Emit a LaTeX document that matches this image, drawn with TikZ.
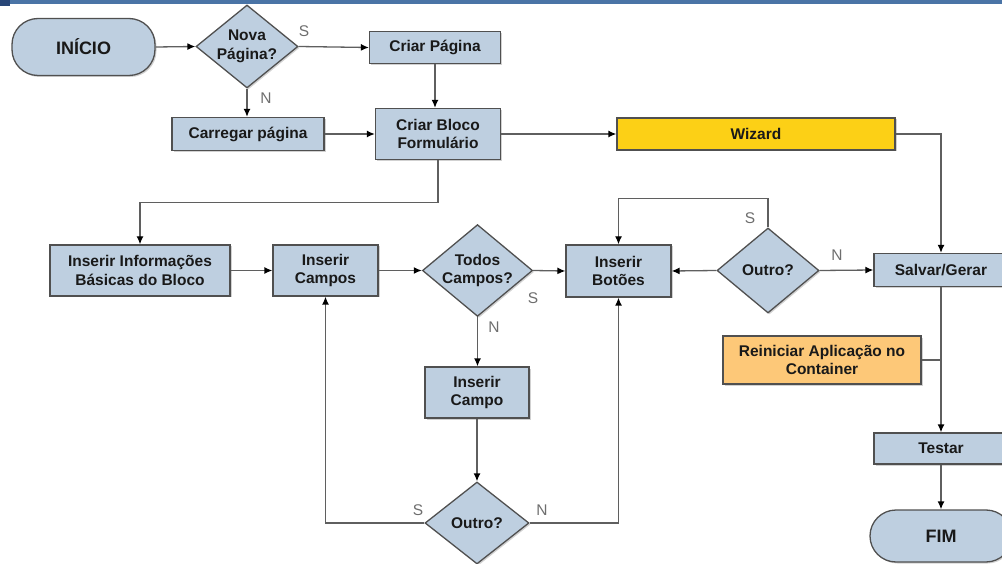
\documentclass[tikz,border=0pt]{standalone}
\usepackage{fontspec}
\setmainfont{Liberation Sans}
\usetikzlibrary{shapes.geometric,arrows.meta,shadows}
\definecolor{boxblue}{RGB}{190,207,224}
\definecolor{boxedge}{RGB}{80,80,80}
\definecolor{wizyellow}{RGB}{252,208,22}
\definecolor{reorange}{RGB}{253,200,120}
\definecolor{linegray}{RGB}{95,95,95}
\definecolor{labgray}{RGB}{110,110,110}
\definecolor{barblue}{RGB}{74,116,166}
\definecolor{bardark}{RGB}{40,70,120}
\tikzset{
  base/.style={draw=boxedge, line width=1.3pt, fill=boxblue, text=black!90,
    font=\fontsize{15.5}{18.5}\selectfont\bfseries, align=center, inner sep=0pt,
    drop shadow={shadow xshift=1.5pt, shadow yshift=-1.5pt, fill=black, opacity=0.18}},
  proc/.style={base, rectangle},
  term/.style={base, rectangle, rounded corners=26pt, font=\fontsize{18}{21}\selectfont\bfseries},
  decide/.style={base, diamond, aspect=1.2},
  conn/.style={draw=linegray, line width=1.3pt, -{Latex[length=8pt,width=7pt,color=black]}},
  plain/.style={draw=linegray, line width=1.3pt},
  lab/.style={text=labgray, font=\fontsize{15.5}{18}\selectfont, inner sep=0pt}
}
\begin{document}
\begin{tikzpicture}[x=1pt,y=-1pt]
\useasboundingbox (0,0) rectangle (1002,564);
\clip (0,0) rectangle (1002,564);
\fill[white] (0,0) rectangle (1002,564);
\fill[barblue] (0,0) rectangle (1002,4);
\fill[bardark] (0,0) rectangle (10,6);

% nodes
\node[term, minimum width=143pt, minimum height=57pt] (inicio) at (83.5,47) {INÍCIO};
\node[decide, minimum width=102pt, minimum height=83pt] (nova) at (247,46.5) {Nova\\Página?};
\node[proc, minimum width=131pt, minimum height=32pt] (criarpag) at (435,47.5) {Criar Página};
\node[proc, minimum width=152pt, minimum height=33pt] (carregar) at (248,134) {Carregar página};
\node[proc, minimum width=125pt, minimum height=51pt] (bloco) at (438,134) {Criar Bloco\\Formulário};
\node[proc, fill=wizyellow, minimum width=278pt, minimum height=32pt] (wizard) at (756,134) {Wizard};
\node[proc, minimum width=180pt, minimum height=51pt] (info) at (140,270.5) {Inserir Informações\\Básicas do Bloco};
\node[proc, minimum width=105pt, minimum height=51pt] (campos) at (325.5,270.5) {Inserir\\Campos};
\node[decide, minimum width=104pt, minimum height=85pt] (todos) at (477.5,270.5) {Todos\\Campos?};
\node[proc, minimum width=105pt, minimum height=52pt] (botoes) at (618.5,271) {Inserir\\Botões};
\node[decide, minimum width=102pt, minimum height=85pt] (outroa) at (768,270.5) {Outro?};
\node[proc, minimum width=134pt, minimum height=33pt] (salvar) at (941,270) {Salvar/Gerar};
\node[proc, fill=reorange, minimum width=198pt, minimum height=48pt] (reiniciar) at (822,360) {Reiniciar Aplicação no\\Container};
\node[proc, minimum width=134pt, minimum height=31pt] (testar) at (941,448.5) {Testar};
\node[term, minimum width=142pt, minimum height=52pt] (fim) at (941,536) {FIM};
\node[proc, minimum width=104pt, minimum height=51pt] (campo) at (477,392.5) {Inserir\\Campo};
\node[decide, minimum width=104pt, minimum height=82pt] (outrob) at (477,523) {Outro?};

% connectors
\draw[conn] (inicio.east) -- (nova.west);
\draw[conn] (nova.east) -- (criarpag.west);
\draw[conn] (nova.south) -- (nova.south |- carregar.north);
\draw[conn] (criarpag.south) -- (criarpag.south |- bloco.north);
\draw[conn] (carregar.east) -- (bloco.west);
\draw[conn] (bloco.east) -- (wizard.west);
\draw[conn] (wizard.east) -| (salvar.north);
\draw[conn] (bloco.south) -- ++(0,42.5) -| (info.north);
\draw[conn] (info.east) -- (campos.west);
\draw[conn] (campos.east) -- (todos.west);
\draw[conn] (todos.east) -- (botoes.west);
\draw[conn] (todos.south) -- (todos.south |- campo.north);
\draw[conn] (campo.south) -- (outrob.north);
\draw[conn] (outrob.west) -| (campos.south);
\draw[conn] (outrob.east) -| (botoes.south);
\draw[conn] (outroa.west) -- (botoes.east);
\draw[conn] (outroa.north) -- ++(0,-29) -| (botoes.north);
\draw[conn] (outroa.east) -- (salvar.west);
\draw[plain] (reiniciar.east) -- (salvar.south |- reiniciar.east);
\draw[conn] (salvar.south) -- (testar.north);
\draw[conn] (testar.south) -- (fim.north);

% labels
\node[lab] (ls1) at (304,31) {S};
\node[lab] (ln1) at (266,98) {N};
\node[lab] (ls2) at (533,298) {S};
\node[lab] (ln2) at (494,327) {N};
\node[lab] (ls3) at (750,218) {S};
\node[lab] (ln3) at (837,255) {N};
\node[lab] (ls4) at (418,510) {S};
\node[lab] (ln4) at (542,510) {N};
\end{tikzpicture}
\end{document}
